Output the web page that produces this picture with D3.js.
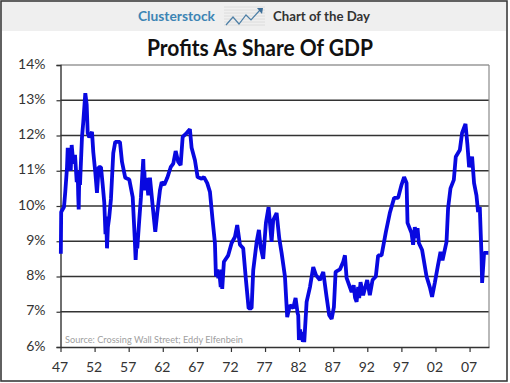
<!DOCTYPE html>
<html>
<head>
<meta charset="utf-8">
<script src="https://cdnjs.cloudflare.com/ajax/libs/d3/7.8.5/d3.min.js"></script>
<style>
  html, body { margin: 0; padding: 0; background: #fff; }
  svg { display: block; }
  text { font-family: Lato, "Open Sans", sans-serif; }
</style>
</head>
<body>
<div id="chart"></div>
<script>
const chartTitle = "Profits As Share Of GDP";
const sourceNote = "Source: Crossing Wall Street; Eddy Elfenbein";
const yTicks = [6, 7, 8, 9, 10, 11, 12, 13, 14];
const xTicks = [1947, 1952, 1957, 1962, 1967, 1972, 1977, 1982, 1987, 1992, 1997, 2002, 2007];

// year as decimal
const years = [
  1947.05, 1947.1, 1947.51, 1947.7, 1947.95, 1948.06, 1948.29, 1948.4, 1948.5, 1948.64, 1948.88, 1949.13,
  1949.38, 1949.52, 1949.6, 1949.67, 1949.76, 1949.86, 1950.15, 1950.34, 1950.64, 1950.84, 1950.99, 1951.22,
  1951.62, 1951.81, 1952.1, 1952.35, 1952.6, 1952.94, 1953.19, 1953.42, 1953.6, 1953.7, 1953.82, 1953.95, 1954.15,
  1954.4, 1954.74, 1955.03, 1955.72, 1956.02, 1956.5, 1957.09, 1957.59, 1957.88, 1958.02, 1958.14,
  1958.26, 1958.55, 1958.8, 1959.14, 1959.25, 1959.3, 1959.39, 1959.64, 1959.87, 1960.12, 1960.52, 1960.9,
  1961.19, 1961.59, 1961.84, 1962.22, 1962.66, 1963.16, 1963.54, 1963.89, 1964.27, 1964.62,
  1964.92, 1965.5, 1965.98, 1966.23, 1966.72, 1967.11, 1967.7, 1968.04, 1968.52, 1968.92,
  1969.31, 1969.65, 1969.8, 1970.0, 1970.15, 1970.28, 1970.5, 1970.6, 1970.72, 1970.97, 1971.6, 1972.1, 1972.58, 1972.92,
  1973.32, 1973.8, 1974.2, 1974.59, 1975.03, 1975.27, 1975.77, 1976.1, 1976.35, 1976.73,
  1977.13, 1977.52, 1977.96, 1978.2, 1978.7, 1979.08, 1979.43, 1979.92, 1980.25, 1980.65,
  1981.13, 1981.48, 1981.78, 1981.87, 1981.97, 1982.15, 1982.25, 1982.37, 1982.55, 1982.65, 1982.75, 1983.1, 1983.59, 1984.07,
  1984.47, 1985.05, 1985.54, 1986.03, 1986.41, 1986.77, 1987.1, 1987.35, 1987.98, 1988.47,
  1988.72, 1988.96, 1989.7, 1990.0, 1990.2, 1990.43, 1990.66, 1990.81, 1991.01, 1991.39, 1991.98, 1992.37,
  1992.77, 1993.25, 1993.59, 1994.09, 1994.72, 1995.3, 1995.94, 1996.52, 1997.02, 1997.4,
  1997.76, 1997.9, 1998.49, 1998.72, 1998.97, 1999.22, 1999.37, 1999.56, 2000.04, 2000.69,
  2001.17, 2001.5, 2001.9, 2002.35, 2002.74, 2003.03, 2003.62, 2003.85, 2004.2, 2004.69,
  2004.98, 2005.57, 2005.9, 2006.4, 2006.69, 2006.93, 2007.37, 2007.66, 2008.01, 2008.25,
  2008.5, 2008.75, 2008.84, 2009.13, 2009.48
];
const profitShare = [
  8.7, 9.83, 9.97, 10.4, 11.08, 11.65, 11.2, 11.6, 11.0, 11.73, 11.2, 11.45,
  10.68, 11.0, 10.3, 9.9, 10.9, 10.6, 11.95, 12.38, 13.2, 12.87, 12.07, 11.95,
  12.1, 11.53, 10.96, 10.37, 11.1, 11.1, 10.6, 10.1, 9.2, 9.7, 8.8, 9.4, 9.69,
  10.2, 11.5, 11.82, 11.82, 11.25, 10.8, 10.75, 10.25, 9.12, 8.47, 8.9,
  8.8, 9.6, 10.25, 11.33, 10.6, 11.0, 10.45, 10.8, 10.3, 10.8, 10.0, 9.27,
  9.8, 10.45, 10.68, 10.6, 10.8, 11.1, 11.2, 11.56, 11.25, 11.16,
  11.96, 12.07, 12.18, 11.65, 11.3, 10.82, 10.77, 10.82, 10.65, 10.4,
  9.6, 8.95, 8.0, 8.2, 7.95, 8.13, 7.7, 8.2, 7.65, 8.42, 8.6, 8.95, 9.12, 9.46,
  8.9, 8.8, 7.9, 7.1, 7.1, 8.18, 8.98, 9.32, 8.84, 8.5,
  9.52, 9.97, 8.98, 9.6, 9.8, 9.09, 8.67, 8.0, 6.85, 7.19,
  7.1, 7.39, 6.96, 6.9, 6.2, 6.5, 6.2, 6.43, 6.15, 6.4, 6.14, 7.28, 7.7, 8.27,
  8.04, 7.9, 8.13, 7.42, 6.9, 6.8, 7.13, 8.13, 8.2, 8.42,
  8.6, 7.96, 7.56, 7.75, 7.4, 7.28, 7.7, 7.39, 7.84, 7.47, 7.9, 7.47,
  7.9, 8.0, 8.6, 8.6, 9.26, 9.8, 10.23, 10.23, 10.6, 10.82,
  10.65, 9.52, 9.23, 8.9, 9.4, 9.09, 9.37, 8.95, 8.75, 8.0,
  7.7, 7.42, 7.82, 8.3, 8.7, 8.46, 8.98, 9.94, 10.5, 10.74,
  11.4, 11.59, 12.07, 12.33, 11.73, 11.1, 11.4, 10.65, 10.3, 9.83,
  9.97, 8.6, 7.82, 8.67, 8.67
];

const width = 510;
const height = 383;
const margin = { top: 65, right: 21, bottom: 36, left: 60.5 };

const svg = d3.select("#chart")
  .append("svg")
  .attr("width", width)
  .attr("height", height);

// outer frame and header band
svg.append("rect")
  .attr("x", 1).attr("y", 1)
  .attr("width", width - 4).attr("height", height - 3)
  .attr("fill", "#fff")
  .attr("stroke", "#3a3a3a")
  .attr("stroke-width", 1.6);

svg.append("rect")
  .attr("x", 2).attr("y", 2)
  .attr("width", width - 6).attr("height", 29)
  .attr("fill", "#efefef");

svg.append("text")
  .attr("x", 138).attr("y", 21)
  .attr("font-size", 13)
  .attr("font-weight", 700)
  .attr("fill", "#3d84b4")
  .attr("textLength", 77)
  .attr("lengthAdjust", "spacingAndGlyphs")
  .text("Clusterstock");

svg.append("text")
  .attr("x", 273).attr("y", 21)
  .attr("font-size", 13)
  .attr("font-weight", 700)
  .attr("fill", "#333")
  .attr("textLength", 97)
  .attr("lengthAdjust", "spacingAndGlyphs")
  .text("Chart of the Day");

// little logo
const logo = svg.append("g").attr("transform", "translate(224,7)");
d3.range(0, 21, 3).forEach(i => {
  logo.append("line")
    .attr("x1", 0).attr("x2", 41)
    .attr("y1", i).attr("y2", i)
    .attr("stroke", "#dcdcdc");
});
logo.append("path")
  .attr("d", "M2,18L9,10L15,17L22,8L27,13L36,3")
  .attr("fill", "none")
  .attr("stroke", "#4d7fa6")
  .attr("stroke-width", 1.2);
logo.append("path")
  .attr("d", "M33,1L39,1L38,7Z")
  .attr("fill", "#3d6f99");

svg.append("text")
  .attr("x", 260).attr("y", 56)
  .attr("text-anchor", "middle")
  .attr("font-size", 22)
  .attr("font-weight", 700)
  .attr("fill", "#111")
  .attr("textLength", 226)
  .attr("lengthAdjust", "spacingAndGlyphs")
  .text(chartTitle);

const x = d3.scaleLinear()
  .domain([1947, 2009.85])
  .range([margin.left, width - margin.right]);

const y = d3.scaleLinear()
  .domain([6, 14])
  .range([height - margin.bottom, margin.top]);

// gridlines
svg.append("g")
  .selectAll("line")
  .data(yTicks.slice(1))
  .enter()
  .append("line")
  .attr("x1", margin.left)
  .attr("x2", width - margin.right)
  .attr("y1", d => y(d))
  .attr("y2", d => y(d))
  .attr("stroke", d => d === 14 ? "#999" : "#333")
  .attr("stroke-width", 1.4);

svg.append("line")
  .attr("x1", width - margin.right)
  .attr("x2", width - margin.right)
  .attr("y1", margin.top)
  .attr("y2", height - margin.bottom)
  .attr("stroke", "#8a8a8a")
  .attr("stroke-width", 1.2);

const yAxis = svg.append("g")
  .attr("transform", `translate(${margin.left},0)`)
  .call(d3.axisLeft(y).tickValues(yTicks).tickFormat(d => d + "%").tickSize(4).tickPadding(11));

const xAxis = svg.append("g")
  .attr("transform", `translate(0,${height - margin.bottom})`)
  .call(d3.axisBottom(x).tickValues(xTicks).tickFormat(d => String(d).slice(2)).tickSize(5).tickSizeOuter(0).tickPadding(10));

[yAxis, xAxis].forEach(axis => {
  axis.selectAll(".domain").attr("stroke", "#333").attr("stroke-width", 1.4);
  axis.selectAll(".tick line").attr("stroke", "#333").attr("stroke-width", 1.2);
  axis.selectAll("text")
    .attr("fill", "#333")
    .style("font-family", "Lato, sans-serif")
    .style("font-size", "14px");
});
yAxis.selectAll("text").attr("dy", "0.22em");
xAxis.selectAll("text").attr("dx", "-1");

svg.append("text")
  .attr("x", 65).attr("y", 343)
  .attr("font-size", 10)
  .attr("fill", "#a0a0a0")
  .attr("textLength", 178)
  .attr("lengthAdjust", "spacingAndGlyphs")
  .text(sourceNote);

const line = d3.line()
  .x((d, i) => x(years[i]))
  .y(d => y(d));

svg.append("path")
  .datum(profitShare)
  .attr("d", line)
  .attr("fill", "none")
  .attr("stroke", "#0808e0")
  .attr("stroke-width", 3.8)
  .attr("stroke-linejoin", "bevel")
  .attr("stroke-linecap", "square");
</script>
</body>
</html>
